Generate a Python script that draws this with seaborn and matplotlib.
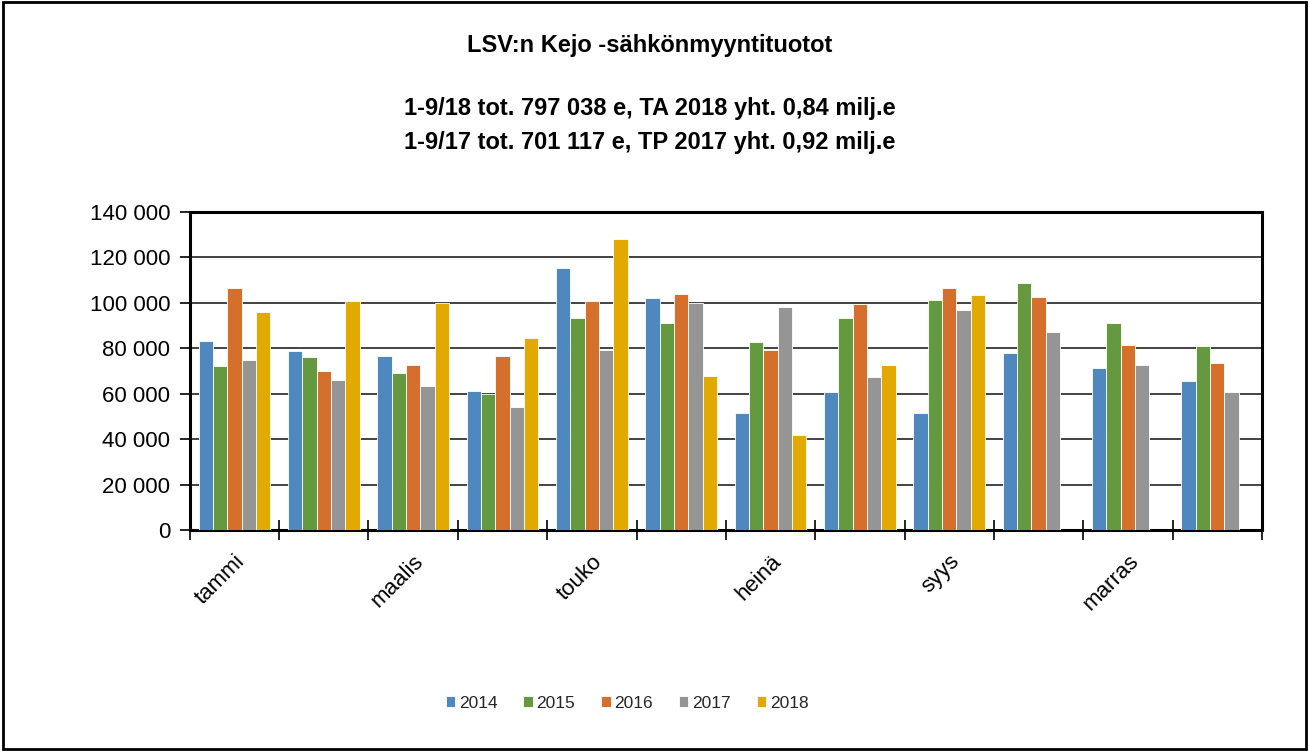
import matplotlib
matplotlib.use("Agg")
import matplotlib.pyplot as plt
import seaborn as sns
import pandas as pd
import numpy as np
from matplotlib.ticker import FuncFormatter, FixedLocator
from matplotlib.patches import Rectangle

months = ["tammi", "helmi", "maalis", "huhti", "touko", "kesä",
          "heinä", "elo", "syys", "loka", "marras", "joulu"]
shown_labels = ["tammi", "", "maalis", "", "touko", "", "heinä", "", "syys", "", "marras", ""]
years = ["2014", "2015", "2016", "2017", "2018"]

v2014 = [83300, 78700, 76700, 61400, 115300, 102000, 51600, 60700, 51600, 78000, 71400, 65400]
v2015 = [72100, 76200, 69300, 60100, 93300, 91300, 82700, 93300, 101400, 108700, 91300, 80800]
v2016 = [106700, 70100, 72700, 76700, 100800, 103900, 79400, 99500, 106700, 102700, 81500, 73400]
v2017 = [74800, 66100, 63500, 54100, 79400, 99900, 98000, 67400, 96900, 87300, 72700, 60700]
v2018 = [96000, 100800, 99900, 84700, 128000, 68000, 42000, 72700, 103300, None, None, None]

colors = ["#4F88BF", "#65993F", "#D4702B", "#959595", "#E2AA00"]

rows = []
for y, vals in zip(years, [v2014, v2015, v2016, v2017, v2018]):
    for m, v in zip(months, vals):
        rows.append({"month": m, "year": y, "value": np.nan if v is None else v})
df = pd.DataFrame(rows)

sns.set_theme(style="white")
plt.rcParams["font.family"] = ["Liberation Sans", "DejaVu Sans"]

fig = plt.figure(figsize=(13.09, 7.51), dpi=100)
ax = fig.add_axes([0.145, 0.294, 0.819, 0.424])

sns.barplot(data=df, x="month", y="value", hue="year", order=months,
            hue_order=years, palette=colors, saturation=1, width=0.8, ax=ax,
            edgecolor="white", linewidth=0.6, legend=True, zorder=3)

ax.set_ylim(0, 140000)
ax.set_xlim(-0.5, 11.5)
ax.set_yticks(np.arange(0, 140001, 20000))
ax.yaxis.set_major_formatter(FuncFormatter(lambda v, p: f"{int(v):,}".replace(",", " ")))
ax.yaxis.grid(True, color="#222222", linewidth=1.2, zorder=0)
ax.set_axisbelow(True)
ax.tick_params(axis="y", which="major", left=True, length=7, width=1.2,
               direction="out", labelsize=16, colors="black", pad=7)

ax.xaxis.set_major_locator(FixedLocator(np.arange(-0.5, 12, 1.0)))
ax.xaxis.set_major_formatter(FuncFormatter(lambda v, p: ""))
ax.xaxis.set_minor_locator(FixedLocator(np.arange(0, 12, 1)))
ax.set_xticklabels(shown_labels, minor=True, rotation=45, ha="right",
                   rotation_mode="anchor", fontsize=16)
ax.tick_params(axis="x", which="major", bottom=True, length=14, width=1.2,
               direction="inout", colors="black")
ax.tick_params(axis="x", which="minor", bottom=True, length=0, pad=15,
               labelsize=16, labelcolor="black")

for s in ax.spines.values():
    s.set_visible(True)
    s.set_color("black")
    s.set_linewidth(2.2)

ax.set_xlabel("")
ax.set_ylabel("")

leg = ax.legend(loc="center", bbox_to_anchor=((0.479 - 0.145) / 0.819, -0.543),
                ncol=5, frameon=False, fontsize=12.5, handlelength=0.55,
                handleheight=0.55, handletextpad=0.2, columnspacing=1.5)

fig.text(0.4965, 0.94, "LSV:n Kejo -sähkönmyyntituotot", ha="center", va="center",
         fontsize=17, fontweight="bold", color="black")
fig.text(0.4965, 0.855, "1-9/18 tot. 797 038 e, TA 2018 yht. 0,84 milj.e",
         ha="center", va="center", fontsize=17, fontweight="bold", color="black")
fig.text(0.4965, 0.81, "1-9/17 tot. 701 117 e, TP 2017 yht. 0,92 milj.e",
         ha="center", va="center", fontsize=17, fontweight="bold", color="black")

fig.patches.append(Rectangle((0.002, 0.003), 0.996, 0.994, transform=fig.transFigure,
                             fill=False, edgecolor="black", linewidth=2))

fig.savefig("out.png", dpi=100)
